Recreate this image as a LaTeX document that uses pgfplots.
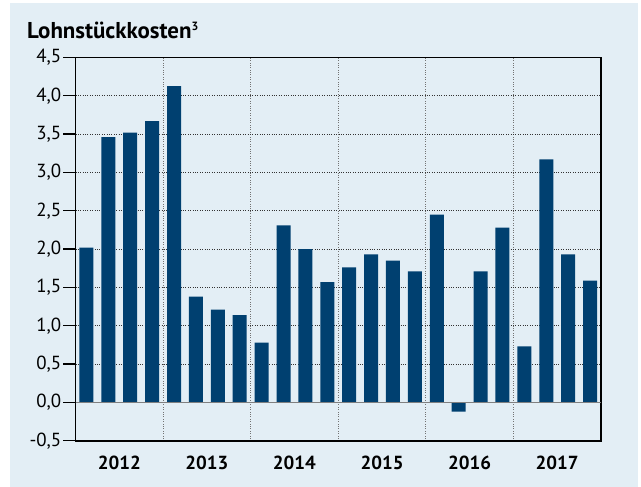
\documentclass[border=0pt]{standalone}
\usepackage{fontspec}
\setmainfont{PT Sans}
\usepackage{pgfplots}
\pgfplotsset{compat=1.18}
\definecolor{bg}{RGB}{227,238,245}
\definecolor{barc}{RGB}{0,64,112}
\tikzset{year/.style={font=\bfseries\fontsize{19}{21}\selectfont, anchor=base, yshift=-28.5bp}}
\begin{document}
\begin{tikzpicture}
\fill[white] (0,0) rectangle (641bp,-487bp);
\fill[bg] (10bp,-3bp) rectangle (638bp,-487bp);
\node[anchor=base west, font=\bfseries\fontsize{23}{26}\selectfont, inner sep=0pt] at (27bp,-38bp) {Lohnstückkosten\raisebox{8bp}{\fontsize{12}{12}\selectfont 3}};
\begin{axis}[
  at={(75.5bp,-440.7bp)}, anchor=south west,
  scale only axis, width=525.5bp, height=383.2bp,
  xmin=-0.5, xmax=23.5, ymin=-0.5, ymax=4.5,
  clip=false,
  ytick={-0.5,0,0.5,1,1.5,2,2.5,3,3.5,4,4.5},
  ytick pos=left,
  tick label style={font=\fontsize{19}{21}\selectfont},
  yticklabel style={/pgf/number format/use comma, /pgf/number format/fixed, /pgf/number format/fixed zerofill, /pgf/number format/precision=1, /pgf/number format/assume math mode=true, inner xsep=2bp},
  xtick={3.5,7.5,11.5,15.5,19.5}, xticklabels={},
  xtick style={draw=none},
  ytick style={black, line width=1.3bp},
  tick align=outside, major tick length=12bp,
  ymajorgrids, xmajorgrids,
  y grid style={dotted, black!80, line width=0.9bp},
  x grid style={dotted, black!55, line width=1bp},
  axis line style={black, line width=1.6bp},
]
\addplot[ybar, bar width=14bp, fill=barc, draw=none] coordinates {
(0,2.02) (1,3.46) (2,3.52) (3,3.67)
(4,4.125) (5,1.38) (6,1.21) (7,1.14)
(8,0.78) (9,2.31) (10,2.00) (11,1.57)
(12,1.76) (13,1.93) (14,1.85) (15,1.71)
(16,2.45) (17,-0.12) (18,1.71) (19,2.28)
(20,0.73) (21,3.17) (22,1.93) (23,1.59)
};
\draw[black!50, line width=1.5bp] (axis cs:-0.5,0) -- (axis cs:23.5,0);
\node[year] at (axis cs:1.5,-0.5) {2012};
\node[year] at (axis cs:5.5,-0.5) {2013};
\node[year] at (axis cs:9.5,-0.5) {2014};
\node[year] at (axis cs:13.5,-0.5) {2015};
\node[year] at (axis cs:17.5,-0.5) {2016};
\node[year] at (axis cs:21.5,-0.5) {2017};
\end{axis}
\pgfresetboundingbox
\path[use as bounding box] (0,0) rectangle (641bp,-487bp);
\end{tikzpicture}
\end{document}
